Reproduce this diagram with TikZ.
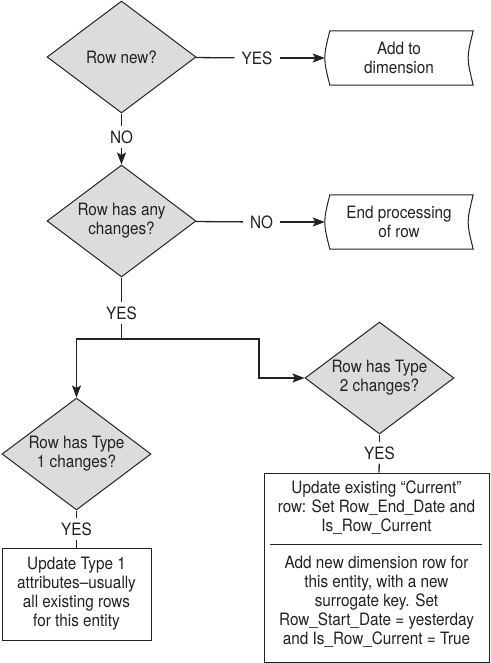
\documentclass[tikz,border=0pt]{standalone}
\usepackage{fontspec}
\setmainfont{TeX Gyre Heros}[FakeStretch=0.9]
\usetikzlibrary{shapes.geometric,arrows.meta}
\definecolor{ink}{HTML}{222222}
\definecolor{dfill}{HTML}{DCDCDC}
\begin{document}
\begin{tikzpicture}[x=1pt,y=-1pt,
  every node/.style={font=\fontsize{17}{19}\selectfont, text=ink},
  ln/.style={draw=ink, line width=1.3pt},
  arr/.style={ln, -{Stealth[length=12pt,width=9pt,inset=2.5pt]}},
  decision/.style={shape=diamond, aspect=1.33, draw=ink, line width=1pt, fill=dfill,
    inner sep=0pt, minimum width=149pt, minimum height=112pt, align=center},
  store/.style={minimum width=148pt, minimum height=54pt, inner sep=0pt, align=center},
  procbox/.style={draw=ink, line width=1pt, fill=white, inner sep=0pt, align=center},
  lab/.style={fill=white, inner xsep=7pt, inner ysep=4pt}
]
\useasboundingbox (0,0) rectangle (490,663);

% decisions
\node[decision] (d1) at (121.5,57) {Row new?};
\node[decision] (d2) at (121.5,221) {Row has any\\changes?};
\node[decision] (d3) at (76.5,454) {Row has Type\\1 changes?};
\node[decision] (d4) at (379.5,378) {Row has Type\\2 changes?};

% stored data boxes
\node[store] (add) at (399,58) {Add to\\dimension};
\node[store] (endp) at (399,222) {End processing\\of row};
\foreach \n in {add,endp}{
  \draw[ln, line width=1pt] ([xshift=5pt]\n.north west) -- (\n.north east)
    .. controls ([xshift=-6.7pt]\n.east) .. (\n.south east)
    -- ([xshift=5pt]\n.south west)
    .. controls ([xshift=-1.7pt]\n.west) .. ([xshift=5pt]\n.north west) -- cycle;
}

% process boxes
\node[procbox, minimum width=149pt, minimum height=92pt] (b3) at (76.5,594)
  {Update Type 1\\attributes–usually\\all existing rows\\for this entity};
\node[procbox, minimum width=225pt, minimum height=189pt] (b4) at (376.5,567.5) {};
\node[align=center, inner sep=0pt] (b4a) at (376.5,508)
  {Update existing “Current”\\row: Set Row\_End\_Date and\\Is\_Row\_Current};
\node[align=center, inner sep=0pt] (b4b) at (376.5,602)
  {Add new dimension row for\\this entity, with a new\\surrogate key. Set\\Row\_Start\_Date = yesterday\\and Is\_Row\_Current = True};
\coordinate (s1) at (270,544);
\coordinate (s2) at (482,544);
\draw[ln, line width=1pt] (s1) -- (s2);

% labels
\node[lab] (yes1) at (257,58) {YES};
\node[lab] (no1) at (121.5,137) {NO};
\node[lab] (no2) at (261.5,222) {NO};
\node[lab] (yes2) at (121.5,313) {YES};
\node[lab] (yes3) at (76.5,529) {YES};
\node[lab] (yes4) at (379.5,453) {YES};

% connectors
\draw[ln] (d1) -- (yes1);
\draw[arr] (yes1) -- (add);
\draw[ln] (d1) -- (no1);
\draw[arr] (no1) -- (d2);
\draw[ln] (d2) -- (no2);
\draw[arr] (no2) -- (endp);
\draw[ln] (d2) -- (yes2);
\coordinate (j) at (121.5,339);
\coordinate (k) at (259,339);
\draw[ln] (yes2) -- (j);
\draw[arr] (j) -| (d3.north);
\draw[arr] (j) -- (k) |- (d4.west);
\draw[ln] (d3) -- (yes3);
\draw[ln] (yes3) -- (b3);
\draw[ln] (d4) -- (yes4);
\draw[ln] (yes4) -- (b4);
\end{tikzpicture}
\end{document}
